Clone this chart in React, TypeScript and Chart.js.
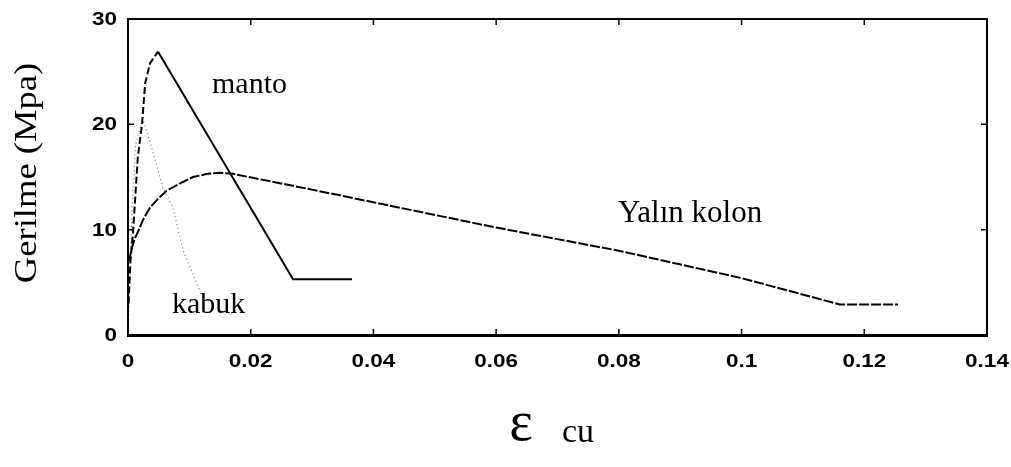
import React, { useEffect, useRef } from "react";
import { Chart, registerables } from "chart.js";

Chart.register(...registerables);

// ---- data ----
const mantoX = [0.0001, 0.0004, 0.0008, 0.0016, 0.0023, 0.0028, 0.0036, 0.0049, 0.0269, 0.0365];
const mantoY = [3.0, 7.0, 9.6, 16.9, 20.1, 23.9, 25.8, 26.9, 5.3, 5.3];
const mantoPeakIndex = 7;

const yalinX = [0.0002, 0.0005, 0.001, 0.0017, 0.0025, 0.0036, 0.005, 0.0063, 0.0085, 0.0106, 0.013, 0.015, 0.0171, 0.03, 0.04, 0.06, 0.08, 0.1, 0.116, 0.1255];
const yalinY = [7.0, 8.0, 9.0, 9.9, 11.0, 12.1, 13.0, 13.7, 14.4, 15.0, 15.3, 15.4, 15.3, 13.8, 12.6, 10.2, 8.0, 5.4, 2.9, 2.9];

const kabukX = [0.0001, 0.0003, 0.0006, 0.0012, 0.0024, 0.0035, 0.0057, 0.0073, 0.009, 0.0117];
const kabukY = [1.5, 6.0, 11.0, 18.0, 20.5, 18.5, 14.0, 12.1, 8.0, 4.2];

const xTickValues = [0, 0.02, 0.04, 0.06, 0.08, 0.1, 0.12, 0.14];
const xTickLabels = ["0", "0.02", "0.04", "0.06", "0.08", "0.1", "0.12", "0.14"];
const yTickValues = [0, 10, 20, 30];
const yTickLabels = ["0", "10", "20", "30"];

const seriesNames = ["manto", "Yalın kolon", "kabuk"];
const yTitle = "Gerilme (Mpa)";
const xTitleMain = "ε";
const xTitleSub = "cu";

const toPts = (xs: number[], ys: number[]) => xs.map((x, i) => ({ x, y: ys[i] }));

const TICK_FONT = "bold 18px 'Liberation Sans', Arial, sans-serif";
const TICK_STRETCH = 1.25;

const drawStretched = (ctx: CanvasRenderingContext2D, text: string, x: number, y: number, align: "left" | "center" | "right") => {
  ctx.save();
  ctx.translate(x, y);
  ctx.scale(TICK_STRETCH, 1);
  ctx.textAlign = align;
  ctx.fillText(text, 0, 0);
  ctx.restore();
};

const decorPlugin = {
  id: "decor",
  afterDraw(chart: any) {
    const { ctx, chartArea, scales } = chart;
    const { left, right, top, bottom } = chartArea;
    const xs = scales.x;
    const ys = scales.y;
    ctx.save();
    // frame
    ctx.strokeStyle = "#000";
    ctx.lineWidth = 2;
    ctx.beginPath();
    ctx.moveTo(left, bottom);
    ctx.lineTo(left, top);
    ctx.lineTo(right, top);
    ctx.lineTo(right, bottom);
    ctx.stroke();
    ctx.lineWidth = 3;
    ctx.beginPath();
    ctx.moveTo(left - 1, bottom + 0.5);
    ctx.lineTo(right + 1, bottom + 0.5);
    ctx.stroke();
    // inward ticks
    const tl = 6;
    ctx.lineWidth = 1.5;
    ctx.beginPath();
    xTickValues.forEach((v) => {
      const px = xs.getPixelForValue(v);
      ctx.moveTo(px, bottom);
      ctx.lineTo(px, bottom - tl);
      ctx.moveTo(px, top);
      ctx.lineTo(px, top + tl);
    });
    yTickValues.forEach((v) => {
      const py = ys.getPixelForValue(v);
      ctx.moveTo(left, py);
      ctx.lineTo(left + tl, py);
      ctx.moveTo(right, py);
      ctx.lineTo(right - tl, py);
    });
    ctx.stroke();

    // tick labels
    ctx.fillStyle = "#000";
    ctx.font = TICK_FONT;
    ctx.textBaseline = "middle";
    xTickValues.forEach((v, i) => {
      drawStretched(ctx, xTickLabels[i], xs.getPixelForValue(v), bottom + 27, "center");
    });
    yTickValues.forEach((v, i) => {
      drawStretched(ctx, yTickLabels[i], left - 11, ys.getPixelForValue(v) + 1, "right");
    });

    // annotations
    ctx.textBaseline = "alphabetic";
    ctx.textAlign = "left";
    ctx.font = "30px 'Liberation Serif', 'Times New Roman', serif";
    ctx.fillText(seriesNames[0], 212, 93);
    ctx.fillText(seriesNames[2], 172, 313);
    ctx.font = "31px 'Liberation Serif', 'Times New Roman', serif";
    ctx.fillText(seriesNames[1], 618, 222);

    // x title
    ctx.font = "56px 'Liberation Serif', 'Times New Roman', serif";
    ctx.textAlign = "center";
    ctx.fillText(xTitleMain, 521, 440);
    ctx.textAlign = "left";
    ctx.font = "34px 'Liberation Serif', 'Times New Roman', serif";
    ctx.fillText(xTitleSub, 562, 442);

    // y title (rotated)
    ctx.save();
    ctx.translate(36, 173);
    ctx.rotate(-Math.PI / 2);
    ctx.scale(1.18, 1);
    ctx.textAlign = "center";
    ctx.font = "31px 'Liberation Serif', 'Times New Roman', serif";
    ctx.fillText(yTitle, 0, 0);
    ctx.restore();

    ctx.restore();
  },
};

export default function App() {
  const canvasRef = useRef<HTMLCanvasElement | null>(null);

  useEffect(() => {
    const canvas = canvasRef.current;
    if (!canvas) return;
    const chart = new Chart(canvas, {
      type: "scatter",
      data: {
        datasets: [
          {
            label: seriesNames[0],
            data: toPts(mantoX, mantoY),
            showLine: true,
            borderColor: "#000",
            borderWidth: 2,
            pointRadius: 0,
            segment: {
              borderDash: (c: any) => (c.p1DataIndex <= mantoPeakIndex ? [7, 3] : undefined),
            },
          },
          {
            label: seriesNames[1],
            data: toPts(yalinX, yalinY),
            showLine: true,
            borderColor: "#000",
            borderWidth: 2,
            borderDash: [10, 2],
            pointRadius: 0,
          },
          {
            label: seriesNames[2],
            data: toPts(kabukX, kabukY),
            showLine: true,
            borderColor: "#777",
            borderWidth: 1.2,
            borderDash: [1, 3],
            pointRadius: 0,
          },
        ],
      },
      options: {
        animation: false,
        responsive: false,
        devicePixelRatio: 1,
        layout: { padding: { left: 0, top: 19, right: 24, bottom: 0 } },
        plugins: {
          legend: { display: false },
          tooltip: { enabled: false },
          title: { display: false },
        },
        scales: {
          x: {
            type: "linear",
            min: 0,
            max: 0.14,
            grid: { display: false },
            border: { display: false },
            ticks: { display: false },
            afterFit: (s: any) => {
              s.height = 132;
            },
          },
          y: {
            type: "linear",
            min: 0,
            max: 30,
            grid: { display: false },
            border: { display: false },
            ticks: { display: false },
            afterFit: (s: any) => {
              s.width = 128;
            },
          },
        },
      },
      plugins: [decorPlugin],
    });
    return () => chart.destroy();
  }, []);

  return (
    <div style={{ position: "fixed", left: 0, top: 0, width: 1011, height: 467, background: "#fff" }}>
      <canvas ref={canvasRef} width={1011} height={467} style={{ width: 1011, height: 467, display: "block" }} />
    </div>
  );
}
